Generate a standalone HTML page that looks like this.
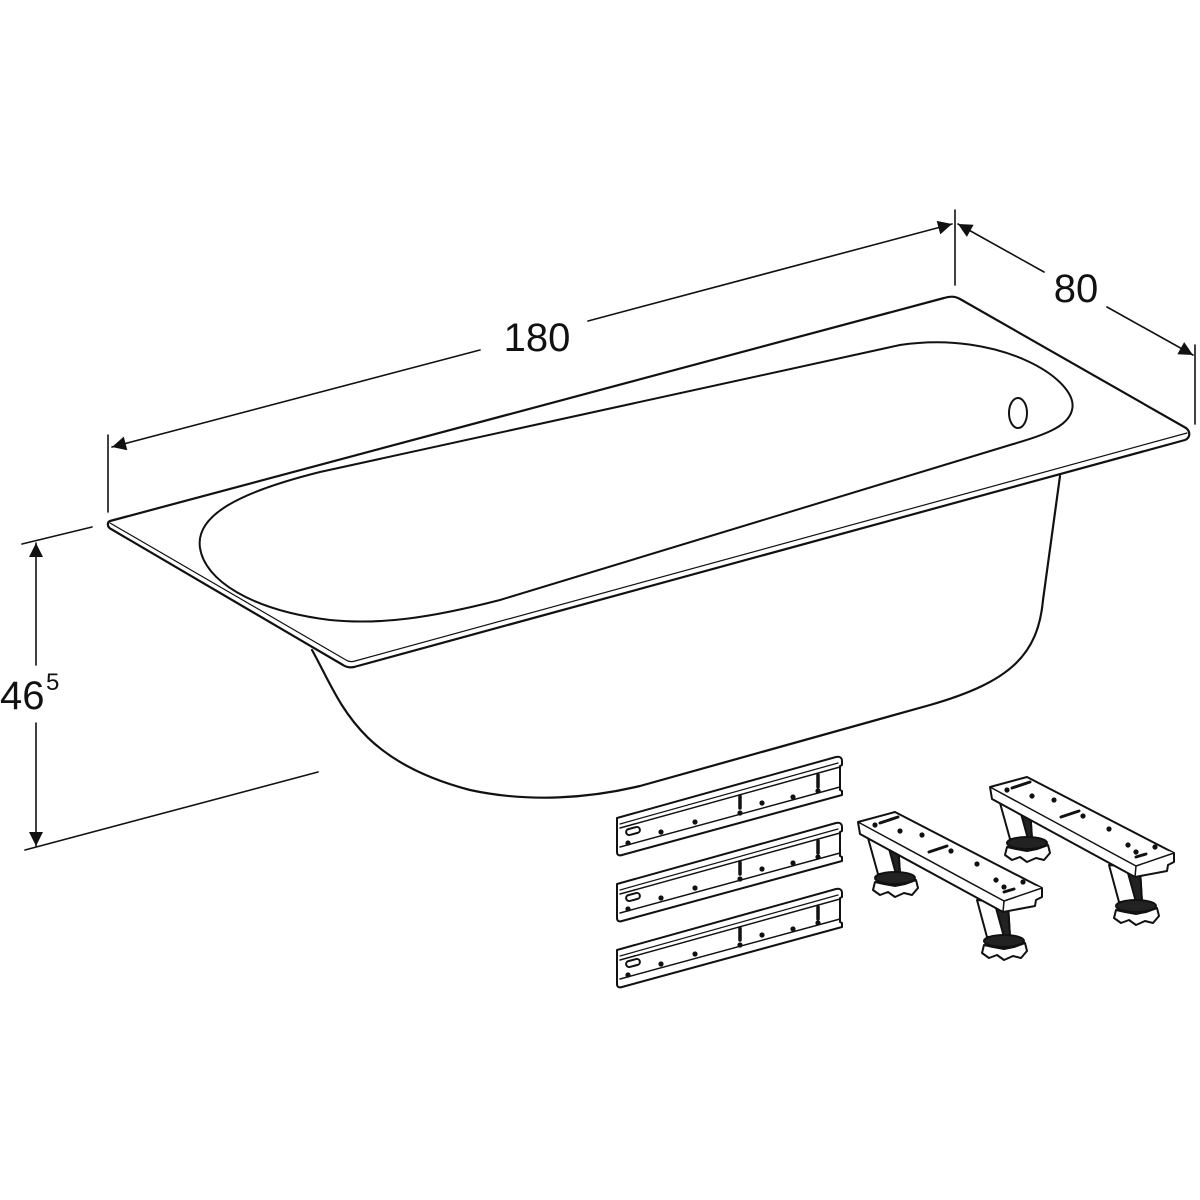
<!DOCTYPE html>
<html><head><meta charset="utf-8"><style>html,body{margin:0;padding:0;background:#fff}svg{display:block}</style></head>
<body>
<svg width="1200" height="1200" viewBox="0 0 1200 1200" xmlns="http://www.w3.org/2000/svg" fill="none" stroke="#111" stroke-linecap="round" stroke-linejoin="round">
<defs>
<marker id="a" viewBox="0 0 10 10" refX="10" refY="5" markerWidth="24" markerHeight="14" markerUnits="userSpaceOnUse" orient="auto"><path d="M0,0 L10,5 L0,10 Z" fill="#111" stroke="none"/></marker>
</defs>
<g stroke-width="1.6">
<line x1="108" y1="435" x2="108" y2="512"/>
<line x1="955" y1="210" x2="955" y2="285"/>
<line x1="1195" y1="345" x2="1195" y2="424"/>
<line x1="480" y1="350" x2="112" y2="447" marker-end="url(#a)"/>
<line x1="588" y1="321" x2="952" y2="224" marker-end="url(#a)"/>
<line x1="1044" y1="272" x2="958" y2="224" marker-end="url(#a)"/>
<line x1="1107" y1="307" x2="1193" y2="355" marker-end="url(#a)"/>
<line x1="22" y1="544" x2="92" y2="527"/>
<line x1="25" y1="850" x2="318" y2="772"/>
<line x1="36" y1="665" x2="36" y2="543" marker-end="url(#a)"/>
<line x1="36" y1="723" x2="36" y2="846" marker-end="url(#a)"/>
</g>
<g font-family="Liberation Sans, sans-serif" fill="#111" stroke="none">
<text x="537" y="351" font-size="40" text-anchor="middle">180</text>
<text x="1076" y="302" font-size="40" text-anchor="middle">80</text>
<text x="0" y="709" font-size="40">46</text>
<text x="46" y="690" font-size="24">5</text>
</g>
<g stroke-width="2.2">
<path d="M312,650 C340,700 355,760 470,790 C530,803 590,798 640,786 L930,705 C1010,682 1038,655 1043,600 L1060,476"/>
<path d="M110,521 L944,298 C950,296 955,296 960,299 L1186,428 C1191,432 1190,438 1185,440 L354,667 C349,668 346,667 343,665 L111,529 C107,527 107,522 110,521 Z" fill="#fff"/>
<path d="M110,523 L346,660 C349,662 352,662 355,661 L1187,433" stroke-width="1.2"/>
<path d="M200,548 C195,515 240,492 320,472 L900,345 C1000,330 1080,380 1072,410 C1068,428 1040,436 1010,445 L500,600 C430,618 380,625 330,620 C250,610 205,580 200,548 Z" stroke-width="2"/>
<ellipse cx="1018" cy="413" rx="9" ry="15" stroke-width="2"/>
</g>
<g stroke-width="2" fill="#fff">
<g id="r">
<path d="M617,818 L836,757 C840,756 842,758 842,761 L842,765 L840,766 L840,790 L842,791 L842,795 L622,855 C619,856 617,855 617,852 Z"/>
<path d="M620,828 L840,767" stroke-width="1.5"/>
<path d="M620,824 L838,763" stroke-width="1.2"/>
<path d="M620,847 L840,787" stroke-width="1.5"/>
<rect x="626" y="828" width="14" height="6" rx="3" transform="rotate(-15 633 831)"/>
<path d="M740,796 L740,808 M818,775 L818,787" stroke-width="3.5"/>
<circle cx="628" cy="843" r="1.6" fill="#111"/><circle cx="661" cy="832" r="1.6" fill="#111"/><circle cx="695" cy="822" r="1.6" fill="#111"/><circle cx="740" cy="813" r="1.6" fill="#111"/><circle cx="762" cy="803" r="1.6" fill="#111"/><circle cx="793" cy="797" r="1.6" fill="#111"/><circle cx="818" cy="791" r="1.6" fill="#111"/>
</g>
<use href="#r" y="66"/>
<use href="#r" y="132"/>
</g>
<g stroke-width="2" fill="#fff" id="f">
<!-- leg 1 -->
<path d="M868,838 L878,874 L900,874 L898,842 Z"/>
<path d="M888,845 L896,874 L900,874 L898,845 Z" fill="#222"/>
<ellipse cx="895" cy="878" rx="20" ry="6" fill="#222"/>
<path d="M875,882 L873,890 L880,895 L888,892 L895,897 L904,893 L912,895 L918,888 L916,880 L905,884 L895,886 L884,884 Z"/>
<!-- leg 2 -->
<path d="M977,900 L987,937 L1010,937 L1008,903 Z"/>
<path d="M996,908 L1004,937 L1010,937 L1008,905 Z" fill="#222"/>
<ellipse cx="1004" cy="941" rx="20" ry="6" fill="#222"/>
<path d="M984,945 L982,953 L989,958 L997,955 L1004,960 L1013,956 L1021,958 L1027,951 L1025,943 L1014,947 L1004,949 L993,947 Z"/>
<!-- bar -->
<path d="M858,822 L895,812 L1042,888 L1042,897 L1036,900 L1035,906 L1003,912 L860,834 Z"/>
<path d="M858,822 L1004,901 L1042,888" stroke-width="1.5"/>
<path d="M1004,901 L1003,912" stroke-width="1.5"/>
<circle cx="875" cy="825" r="1.6" fill="#111"/><circle cx="900" cy="831" r="1.6" fill="#111"/><circle cx="922" cy="835" r="1.6" fill="#111"/><circle cx="951" cy="851" r="1.6" fill="#111"/><circle cx="977" cy="864" r="1.6" fill="#111"/><circle cx="996" cy="880" r="1.6" fill="#111"/><circle cx="1004" cy="887" r="1.6" fill="#111"/><circle cx="1023" cy="882" r="1.6" fill="#111"/>
<path d="M880,823 L898,817 M929,852 L947,846 M1004,892 L1014,889" stroke-width="3"/>
</g>
<use href="#f" x="132" y="-35"/>
</svg>
</body></html>
